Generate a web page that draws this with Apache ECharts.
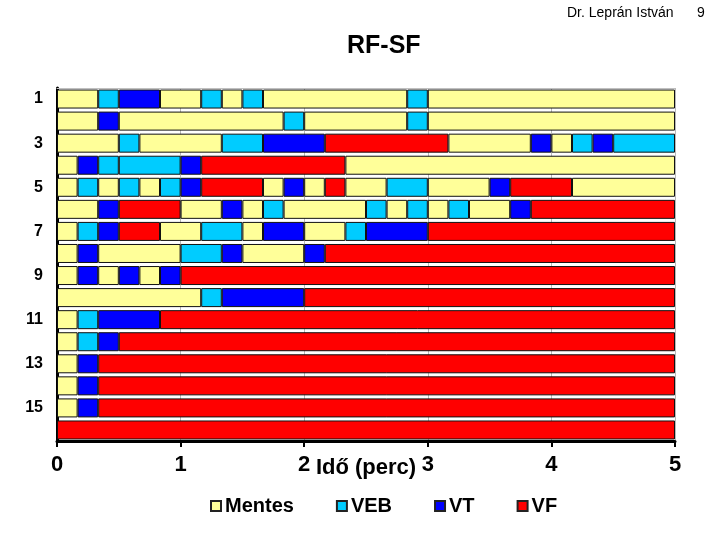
<!DOCTYPE html>
<html>
<head>
<meta charset="utf-8">
<script src="https://cdn.jsdelivr.net/npm/echarts@6/dist/echarts.min.js"></script>
<style>html,body{margin:0;padding:0;background:#fff;}#c{width:720px;height:540px;}</style>
</head>
<body>
<div id="c"></div>
<script>
// Row labels (1 = top row)
const categories = ['1','2','3','4','5','6','7','8','9','10','11','12','13','14','15','16'];
const stateNames = ['Mentes','VEB','VT','VF'];
const xTicks = [0,1,2,3,4,5];
// Each row: [state, duration in seconds]
const row1  = [['Mentes',20],['VEB',10],['VT',20],['Mentes',20],['VEB',10],['Mentes',10],['VEB',10],['Mentes',70],['VEB',10],['Mentes',120]];
const row2  = [['Mentes',20],['VT',10],['Mentes',80],['VEB',10],['Mentes',50],['VEB',10],['Mentes',120]];
const row3  = [['Mentes',30],['VEB',10],['Mentes',40],['VEB',20],['VT',30],['VF',60],['Mentes',40],['VT',10],['Mentes',10],['VEB',10],['VT',10],['VEB',30]];
const row4  = [['Mentes',10],['VT',10],['VEB',10],['VEB',30],['VT',10],['VF',70],['Mentes',160]];
const row5  = [['Mentes',10],['VEB',10],['Mentes',10],['VEB',10],['Mentes',10],['VEB',10],['VT',10],['VF',30],['Mentes',10],['VT',10],['Mentes',10],['VF',10],['Mentes',20],['VEB',20],['Mentes',30],['VT',10],['VF',30],['Mentes',50]];
const row6  = [['Mentes',20],['VT',10],['VF',30],['Mentes',20],['VT',10],['Mentes',10],['VEB',10],['Mentes',40],['VEB',10],['Mentes',10],['VEB',10],['Mentes',10],['VEB',10],['Mentes',20],['VT',10],['VF',70]];
const row7  = [['Mentes',10],['VEB',10],['VT',10],['VF',20],['Mentes',20],['VEB',20],['Mentes',10],['VT',20],['Mentes',20],['VEB',10],['VT',30],['VF',120]];
const row8  = [['Mentes',10],['VT',10],['Mentes',40],['VEB',20],['VT',10],['Mentes',30],['VT',10],['VF',170]];
const row9  = [['Mentes',10],['VT',10],['Mentes',10],['VT',10],['Mentes',10],['VT',10],['VF',240]];
const row10 = [['Mentes',70],['VEB',10],['VT',40],['VF',180]];
const row11 = [['Mentes',10],['VEB',10],['VT',30],['VF',250]];
const row12 = [['Mentes',10],['VEB',10],['VT',10],['VF',270]];
const row13 = [['Mentes',10],['VT',10],['VF',280]];
const row14 = [['Mentes',10],['VT',10],['VF',280]];
const row15 = [['Mentes',10],['VT',10],['VF',280]];
const row16 = [['VF',300]];

const rows = [row1,row2,row3,row4,row5,row6,row7,row8,row9,row10,row11,row12,row13,row14,row15,row16];
const colors = {Mentes:'#FFFF99', VEB:'#00CCFF', VT:'#0000FF', VF:'#FF0000'};
const FONT = 'Liberation Sans, Arial, sans-serif';
const BW = 19;

const maxSeg = Math.max(...rows.map(r => r.length));
const series = [];
for (let k = 0; k < maxSeg; k++) {
  series.push({
    type: 'bar', stack: 't', barWidth: BW, silent: true,
    data: rows.map(r => r[k] ? { value: r[k][1] / 60, itemStyle: { color: colors[r[k][0]] } } : '-'),
    itemStyle: { borderColor: '#111', borderWidth: 1 }
  });
}
stateNames.forEach(n => {
  series.push({ name: n, type: 'bar', stack: 't', barWidth: BW, data: [],
    itemStyle: { color: colors[n], borderColor: '#222', borderWidth: 1 } });
});

const chart = echarts.init(document.getElementById('c'), null, { renderer: 'canvas' });
chart.setOption({
  animation: false,
  backgroundColor: '#fff',
  title: { text: 'RF-SF', left: 342, top: 29, textStyle: { fontFamily: FONT, fontSize: 25, fontWeight: 'bold', color: '#000' } },
  graphic: [
    { type: 'text', left: 567, top: 6, style: { text: 'Dr. Leprán István', font: '14px ' + FONT, fill: '#000' } },
    { type: 'text', left: 697, top: 6, style: { text: '9', font: '14px ' + FONT, fill: '#000' } }
  ],
  legend: {
    data: stateNames, left: 205, top: 491, itemWidth: 10, itemHeight: 10, itemGap: 42,
    icon: 'rect',
    textStyle: { fontFamily: FONT, fontSize: 20, fontWeight: 'bold', color: '#000', padding: [0,0,0,-1] }
  },
  grid: { left: 57, right: 45, top: 88, bottom: 99, containLabel: false },
  xAxis: [{
    type: 'value', min: xTicks[0], max: xTicks[xTicks.length-1], interval: 1,
    name: 'Idő (perc)', nameLocation: 'middle', nameGap: 16, nameMoveOverlap: false,
    nameTextStyle: { fontFamily: FONT, fontSize: 22, fontWeight: 'bold', color: '#000', verticalAlign: 'top' },
    axisLine: { show: true, onZero: false, lineStyle: { color: '#000', width: 3 } },
    axisTick: { show: true, length: 6, lineStyle: { color: '#000', width: 2 } },
    axisLabel: { fontFamily: FONT, fontSize: 22, fontWeight: 'bold', color: '#000', margin: 13 },
    splitLine: { show: true, lineStyle: { color: '#b8b8b8', width: 1 } }
  }, {
    type: 'value', position: 'top', min: 0, max: 5,
    axisLine: { show: true, lineStyle: { color: '#c0c0c0', width: 1 } },
    axisTick: { show: false }, axisLabel: { show: false }, splitLine: { show: false }
  }],
  yAxis: {
    type: 'category', data: categories, inverse: true,
    axisLine: { show: true, lineStyle: { color: '#000', width: 3 } },
    axisTick: { show: false },
    axisLabel: { interval: 1, fontFamily: FONT, fontSize: 16, fontWeight: 'bold', color: '#000', margin: 14 },
    splitLine: { show: false }
  },
  series: series
});
</script>
</body>
</html>
